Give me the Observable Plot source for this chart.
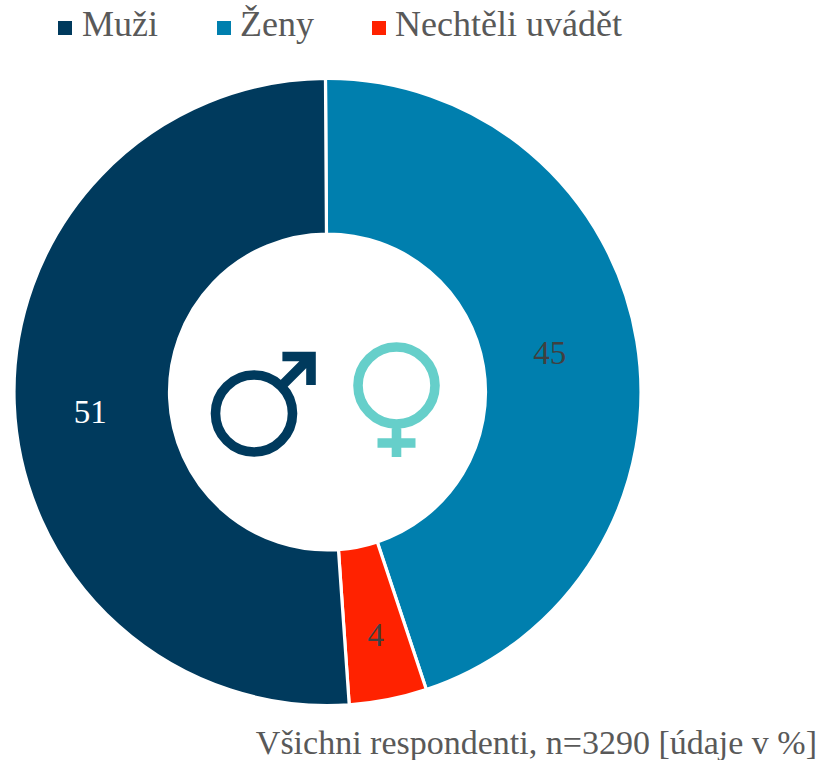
<!DOCTYPE html>
<html>
<head>
<meta charset="utf-8">
<script src="https://cdn.jsdelivr.net/npm/d3@7"></script>
<script src="https://cdn.jsdelivr.net/npm/@observablehq/plot@0.6"></script>
<style>
  html, body { margin: 0; padding: 0; background: #fff; }
  body { width: 818px; height: 760px; position: relative; overflow: hidden; font-family: "Liberation Serif", serif; color: #595959; }
  #legend { position: relative; height: 50px; font-size: 36px; }
  #legend span.item { position: absolute; top: 5px; line-height: 38px; white-space: nowrap; }
  #legend i { position: absolute; top: 21px; width: 14px; height: 13.5px; }
  #caption { position: absolute; right: 1px; top: 725px; font-size: 34px; line-height: 35px; white-space: nowrap; }
  svg { display: block; }
</style>
</head>
<body>
<div id="legend"></div>
<div id="chart"></div>
<div id="caption">Všichni respondenti, n=3290 [údaje v %]</div>
<script>
const categories = ["Ženy", "Nechtěli uvádět", "Muži"];
const shares = [45, 4, 51];
const sliceColors = ["#007fae", "#ff2200", "#003a5d"];
const labelColors = ["#404040", "#404040", "#ffffff"];
const legendOrder = ["Muži", "Ženy", "Nechtěli uvádět"];

const slices = categories.map((category, i) => ({category, share: shares[i], labelColor: labelColors[i]}));

const outerR = 313.5, innerR = 158;
const labelR = 236;
const firstAngle = -0.0065;
const labelNudge = [[-11, -1], [2, 11], [-2, 11]];

function arcRender(index, scales, values, dims) {
  const cx = dims.width / 2, cy = dims.height / 2;
  const arc = d3.arc().innerRadius(innerR).outerRadius(outerR);
  const g = d3.create("svg:g").attr("transform", `translate(${cx},${cy})`);
  for (const i of index) {
    g.append("path")
      .attr("d", arc({startAngle: values.x1[i], endAngle: values.x2[i]}))
      .attr("fill", values.fill[i])
      .attr("stroke", "#fff")
      .attr("stroke-width", 3.2);
  }
  return g.node();
}

function labelRender(index, scales, values, dims, context, next) {
  const cx = dims.width / 2, cy = dims.height / 2;
  const X = Float64Array.from(values.x, (a, i) => cx + labelR * Math.sin(a) + labelNudge[i][0]);
  const Y = Float64Array.from(values.x, (a, i) => cy - labelR * Math.cos(a) + labelNudge[i][1]);
  return next(index, scales, {...values, x: X, y: Y}, dims, context);
}

const maleSymbol = {
  draw(ctx) {
    ctx.moveTo(38.5, 0); ctx.arc(0, 0, 38.5, 0, 2 * Math.PI);
    ctx.moveTo(27, -27); ctx.lineTo(57, -57);
    ctx.moveTo(28.4, -57); ctx.lineTo(57, -57); ctx.lineTo(57, -28.4);
  }
};
const femaleSymbol = {
  draw(ctx) {
    ctx.moveTo(38.5, 0); ctx.arc(0, 0, 38.5, 0, 2 * Math.PI);
    ctx.moveTo(0, 38.5); ctx.lineTo(0, 71.5);
    ctx.moveTo(-19, 57.5); ctx.lineTo(19, 57.5);
  }
};

const chart = Plot.plot({
  width: 655,
  height: 684,
  margin: 0,
  x: {domain: [0, 100], range: [firstAngle, firstAngle + 2 * Math.PI], axis: null},
  y: {axis: null},
  color: {domain: categories, range: sliceColors},
  marks: [
    Plot.barX(slices, Plot.stackX({x: "share", fill: "category", render: arcRender})),
    Plot.text(slices, Plot.stackX({
      x: "share",
      text: d => String(d.share),
      fill: {value: "labelColor", scale: null},
      fontSize: 33,
      fontFamily: "Liberation Serif",
      render: labelRender
    })),
    Plot.dot([0], {frameAnchor: "middle", dx: -74, dy: 21, r: 1, symbol: maleSymbol, fill: "none", stroke: "#003a5d", strokeWidth: 9.6, strokeLinejoin: "miter"}),
    Plot.dot([0], {frameAnchor: "middle", dx: 68.5, dy: -7, r: 1, symbol: femaleSymbol, fill: "none", stroke: "#66cfca", strokeWidth: 9.6})
  ]
});
document.getElementById("chart").appendChild(chart);

const legend = d3.select("#legend");
const legendText = [82, 240, 395];
const legendSwatch = [58, 217, 372];
legendOrder.forEach((name, i) => {
  legend.append("i").style("left", legendSwatch[i] + "px")
    .style("background", sliceColors[categories.indexOf(name)]);
  legend.append("span").attr("class", "item").style("left", legendText[i] + "px").text(name);
});
</script>
</body>
</html>
